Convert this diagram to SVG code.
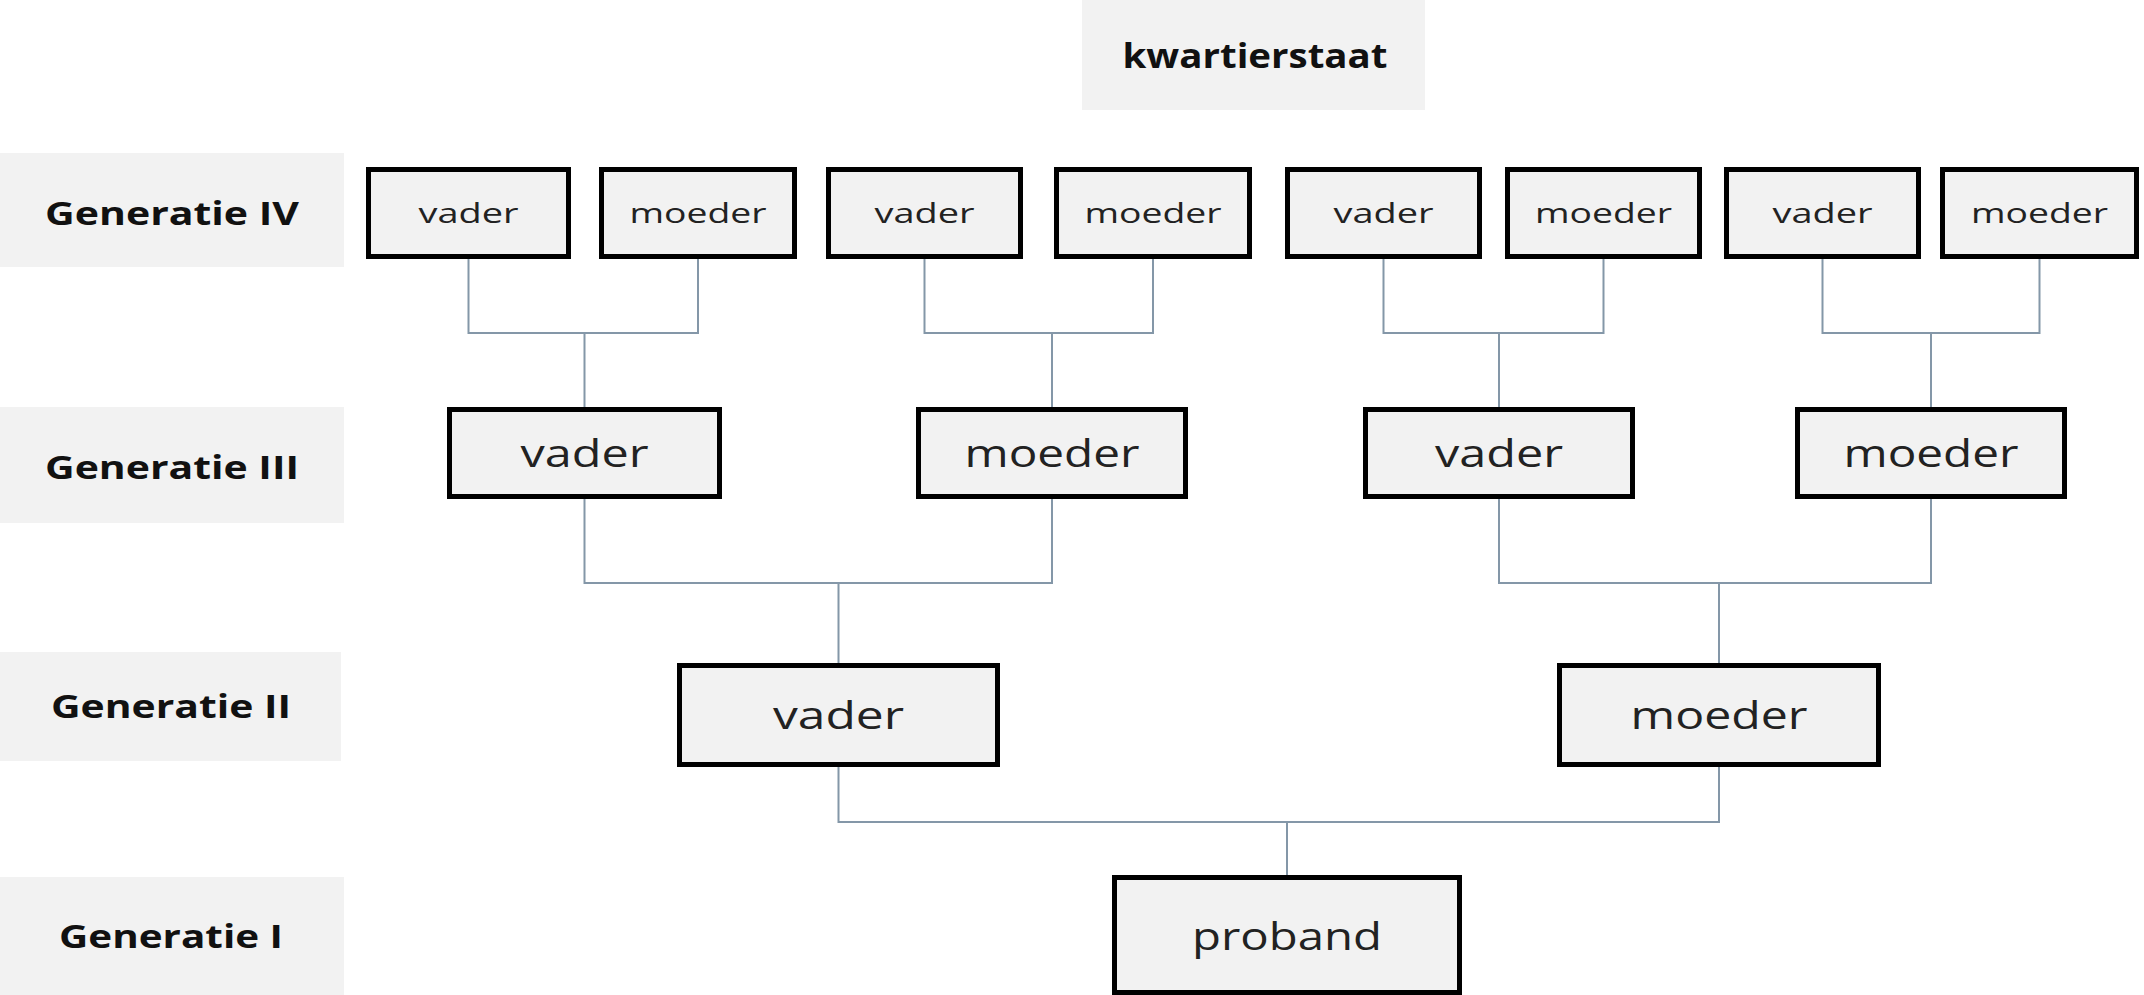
<svg xmlns="http://www.w3.org/2000/svg" width="2144" height="995" viewBox="0 0 2144 995">
<defs>
<style>
.lbl{fill:#f2f2f2}
.lt{font-family:"Open Sans","Liberation Sans",sans-serif;font-weight:bold;font-size:32px;fill:#111;text-anchor:middle}
.box{fill:#f2f2f2;stroke:#000;stroke-width:5}
.t4{font-family:"Open Sans","Liberation Sans",sans-serif;font-size:28px;fill:#222;text-anchor:middle}
.t3{font-family:"Open Sans","Liberation Sans",sans-serif;font-size:38px;fill:#222;text-anchor:middle}
.con{fill:none;stroke:#8497a8;stroke-width:2}
</style>
</defs>
<rect width="2144" height="995" fill="#fff"/>
<g id="title">
<rect class="lbl" x="1082" y="0" width="343" height="110"/>
<text class="lt" x="1255" y="68" font-size="34" style="font-size:34px" textLength="265" lengthAdjust="spacingAndGlyphs">kwartierstaat</text>
</g>
<g id="label-gen4"><rect class="lbl" x="0" y="153" width="344" height="114"/><text class="lt" x="172" y="225" textLength="254" lengthAdjust="spacingAndGlyphs">Generatie IV</text></g>
<g id="label-gen3"><rect class="lbl" x="0" y="407" width="344" height="116"/><text class="lt" x="172" y="479" textLength="254" lengthAdjust="spacingAndGlyphs">Generatie III</text></g>
<g id="label-gen2"><rect class="lbl" x="0" y="652" width="341" height="109"/><text class="lt" x="171" y="718" textLength="240" lengthAdjust="spacingAndGlyphs">Generatie II</text></g>
<g id="label-gen1"><rect class="lbl" x="0" y="877" width="344" height="118"/><text class="lt" x="171" y="948" textLength="224" lengthAdjust="spacingAndGlyphs">Generatie I</text></g>

<g id="connectors">
<path class="con" d="M468.5 259V333H698V259M584.5 333V407"/>
<path class="con" d="M924.5 259V333H1153V259M1052 333V407"/>
<path class="con" d="M1383.5 259V333H1603.5V259M1499 333V407"/>
<path class="con" d="M1822.5 259V333H2039.5V259M1931 333V407"/>
<path class="con" d="M584.5 499V583H1052V499M838.5 583V663"/>
<path class="con" d="M1499 499V583H1931V499M1719 583V663"/>
<path class="con" d="M838.5 767V822H1719V767M1287 822V875"/>
</g>

<g id="g4-vader1"><rect class="box" x="368.5" y="169.5" width="200" height="87"/><text class="t4" x="468.5" y="223" textLength="100" lengthAdjust="spacingAndGlyphs">vader</text></g>
<g id="g4-moeder1"><rect class="box" x="601.5" y="169.5" width="193" height="87"/><text class="t4" x="698" y="223" textLength="137" lengthAdjust="spacingAndGlyphs">moeder</text></g>
<g id="g4-vader2"><rect class="box" x="828.5" y="169.5" width="192" height="87"/><text class="t4" x="924.5" y="223" textLength="100" lengthAdjust="spacingAndGlyphs">vader</text></g>
<g id="g4-moeder2"><rect class="box" x="1056.5" y="169.5" width="193" height="87"/><text class="t4" x="1153" y="223" textLength="137" lengthAdjust="spacingAndGlyphs">moeder</text></g>
<g id="g4-vader3"><rect class="box" x="1287.5" y="169.5" width="192" height="87"/><text class="t4" x="1383.5" y="223" textLength="100" lengthAdjust="spacingAndGlyphs">vader</text></g>
<g id="g4-moeder3"><rect class="box" x="1507.5" y="169.5" width="192" height="87"/><text class="t4" x="1603.5" y="223" textLength="137" lengthAdjust="spacingAndGlyphs">moeder</text></g>
<g id="g4-vader4"><rect class="box" x="1726.5" y="169.5" width="192" height="87"/><text class="t4" x="1822.5" y="223" textLength="100" lengthAdjust="spacingAndGlyphs">vader</text></g>
<g id="g4-moeder4"><rect class="box" x="1942.5" y="169.5" width="194" height="87"/><text class="t4" x="2039.5" y="223" textLength="137" lengthAdjust="spacingAndGlyphs">moeder</text></g>

<g id="g3-vader1"><rect class="box" x="449.5" y="409.5" width="270" height="87"/><text class="t3" x="584.5" y="467" textLength="128" lengthAdjust="spacingAndGlyphs">vader</text></g>
<g id="g3-moeder1"><rect class="box" x="918.5" y="409.5" width="267" height="87"/><text class="t3" x="1052" y="467" textLength="175" lengthAdjust="spacingAndGlyphs">moeder</text></g>
<g id="g3-vader2"><rect class="box" x="1365.5" y="409.5" width="267" height="87"/><text class="t3" x="1499" y="467" textLength="128" lengthAdjust="spacingAndGlyphs">vader</text></g>
<g id="g3-moeder2"><rect class="box" x="1797.5" y="409.5" width="267" height="87"/><text class="t3" x="1931" y="467" textLength="175" lengthAdjust="spacingAndGlyphs">moeder</text></g>

<g id="g2-vader"><rect class="box" x="679.5" y="665.5" width="318" height="99"/><text class="t3" x="838.5" y="729" textLength="131" lengthAdjust="spacingAndGlyphs">vader</text></g>
<g id="g2-moeder"><rect class="box" x="1559.5" y="665.5" width="319" height="99"/><text class="t3" x="1719" y="729" textLength="177" lengthAdjust="spacingAndGlyphs">moeder</text></g>

<g id="g1-proband"><rect class="box" x="1114.5" y="877.5" width="345" height="115"/><text class="t3" x="1287" y="950" textLength="190" lengthAdjust="spacingAndGlyphs">proband</text></g>
</svg>
